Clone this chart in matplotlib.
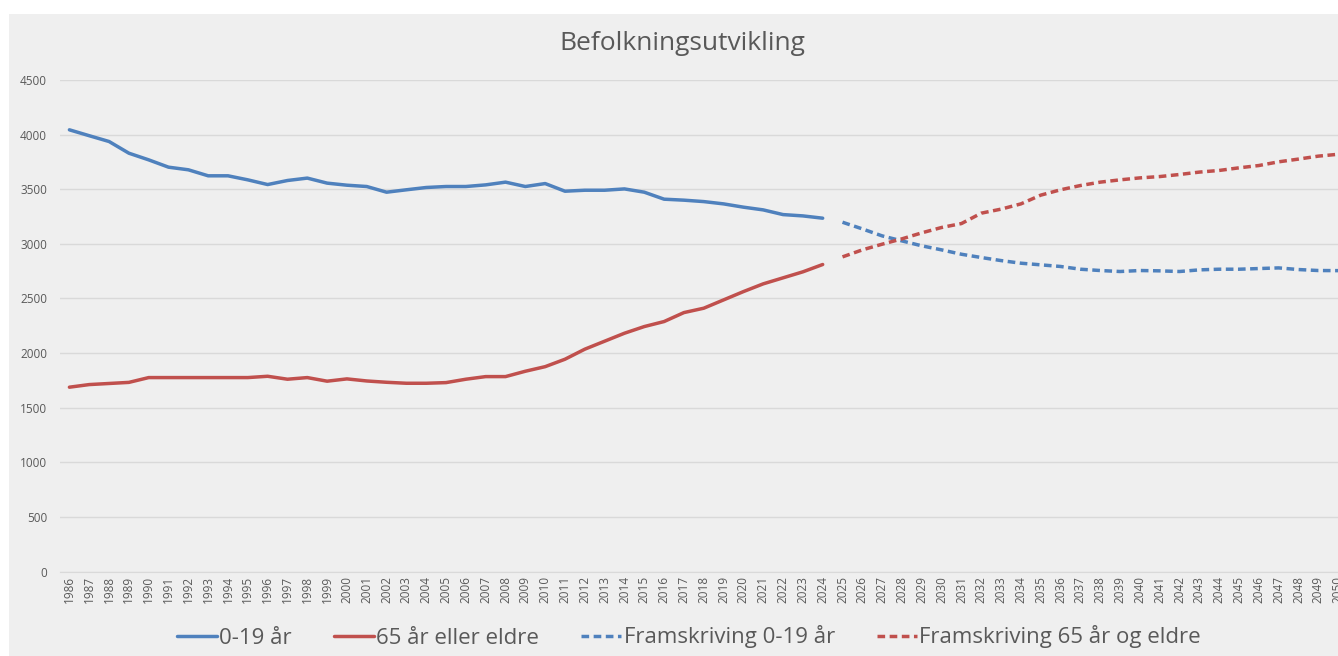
import matplotlib.pyplot as plt
import matplotlib.patches as patches
import numpy as np

years = list(range(1986, 2051))
hist_years = list(range(1986, 2025))
proj_years = list(range(2025, 2051))

# 0-19 år, registrert
young = [4044, 3990, 3937, 3830, 3769, 3702, 3678, 3623, 3623, 3586,
         3543, 3580, 3602, 3556, 3537, 3525, 3473, 3495, 3516, 3525,
         3525, 3540, 3565, 3525, 3552, 3482, 3491, 3491, 3503, 3473,
         3409, 3400, 3387, 3366, 3336, 3311, 3268, 3256, 3235]
# 65 år eller eldre, registrert
old = [1688, 1712, 1722, 1732, 1776, 1776, 1776, 1776, 1776, 1776,
       1788, 1761, 1776, 1743, 1764, 1745, 1733, 1724, 1724, 1730,
       1761, 1785, 1785, 1834, 1876, 1944, 2036, 2109, 2182, 2243,
       2289, 2371, 2411, 2487, 2563, 2634, 2689, 2744, 2811]
# framskriving
young_proj = [3198, 3137, 3073, 3027, 2982, 2945, 2905, 2875, 2847, 2823,
              2808, 2793, 2768, 2756, 2747, 2756, 2753, 2747, 2762, 2768,
              2768, 2774, 2780, 2765, 2756, 2755]
old_proj = [2881, 2945, 2997, 3046, 3101, 3150, 3186, 3281, 3318, 3366,
            3446, 3495, 3534, 3565, 3586, 3604, 3616, 3635, 3657, 3672,
            3696, 3717, 3751, 3776, 3803, 3820]

labels = ['0-19 år', '65 år eller eldre', 'Framskriving 0-19 år', 'Framskriving 65 år og eldre']
blue = '#4f81bd'
red = '#c0504d'
txt = '#595959'
bg = '#efefef'

plt.rcParams['font.family'] = ['Open Sans', 'DejaVu Sans']

W, H = 1338, 656
fig = plt.figure(figsize=(W / 100, H / 100), dpi=100)
fig.patch.set_facecolor('white')
fig.add_artist(patches.Rectangle((9 / W, 0), 1, 1 - 14 / H, transform=fig.transFigure,
                                 facecolor=bg, edgecolor='none', zorder=0))

# plot area runs a little past the right edge, as in the original screenshot
left, right = 59.5 / W, 1348 / W
bottom, top = (H - 571.6) / H, (H - 80) / H
ax = fig.add_axes([left, bottom, right - left, top - bottom])
ax.set_facecolor('none')

idx = {y: i for i, y in enumerate(years)}
hx = [idx[y] for y in hist_years]
px = [idx[y] for y in proj_years]

l1, = ax.plot(hx, young, color=blue, lw=2.5, solid_capstyle='round')
l2, = ax.plot(hx, old, color=red, lw=2.5, solid_capstyle='round')
l3, = ax.plot(px, young_proj, color=blue, lw=2.5, dashes=(2.2, 1.3))
l4, = ax.plot(px, old_proj, color=red, lw=2.5, dashes=(2.2, 1.3))

ax.set_xlim(-0.5, len(years) - 0.5)
ax.set_ylim(0, 4500)
ax.set_yticks(range(0, 4501, 500))
ax.set_xticks(range(len(years)))
ax.set_xticklabels([str(y) for y in years], rotation=90, fontsize=8.5, color=txt)
ax.tick_params(axis='y', labelsize=8.5, colors=txt, length=0, pad=9)
ax.tick_params(axis='x', length=0, pad=3)
ax.grid(axis='y', color='#d9d9d9', lw=1)
ax.set_axisbelow(True)
for s in ['top', 'right', 'left']:
    ax.spines[s].set_visible(False)
ax.spines['bottom'].set_color('#d9d9d9')

fig.text(682 / W, 1 - 43 / H, 'Befolkningsutvikling', ha='center', va='center',
         fontsize=19, color=txt)

fig.legend([l1, l2, l3, l4], labels, loc='center', bbox_to_anchor=(689 / W, 1 - 637 / H),
           ncol=4, frameon=False, fontsize=16, labelcolor=txt, handlelength=1.8,
           handletextpad=0.1, columnspacing=1.9)

fig.savefig('out.png', dpi=100, facecolor=fig.get_facecolor())
